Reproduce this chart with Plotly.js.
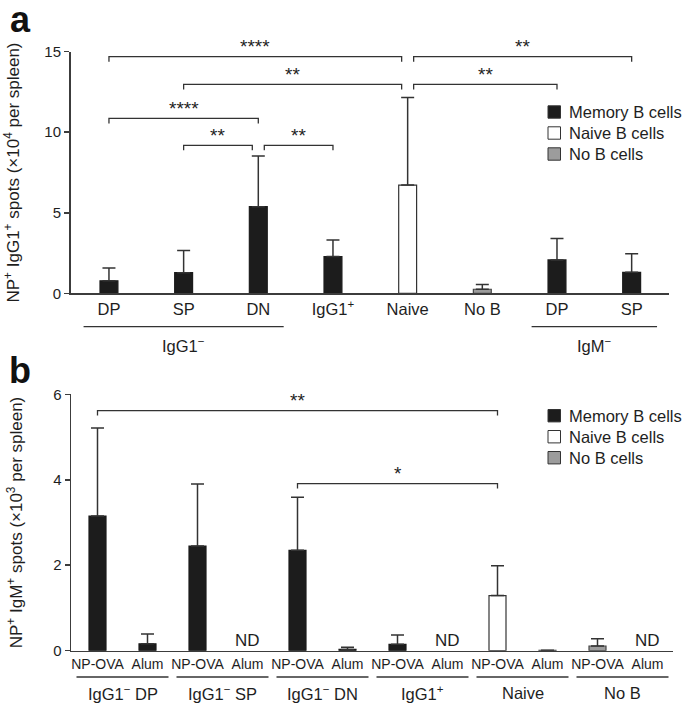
<!DOCTYPE html>
<html>
<head>
<meta charset="utf-8">
<script src="https://cdn.plot.ly/plotly-3.0.1.min.js"></script>
<style>html,body{margin:0;padding:0;background:#fff}#chart{width:685px;height:703px}</style>
</head>
<body>
<div id="chart"></div>
<script>
// ---------- Panel a data ----------
const aLabels = ['DP', 'SP', 'DN', 'IgG1<sup>+</sup>', 'Naive', 'No B', 'DP', 'SP'];
const aSeries = ['memory', 'memory', 'memory', 'memory', 'naive', 'noB', 'memory', 'memory'];
const aMeans  = [0.78, 1.28, 5.38, 2.28, 6.72, 0.25, 2.07, 1.30];
const aErr    = [0.79, 1.37, 3.14, 1.03, 5.43, 0.29, 1.34, 1.16];
const aGroupLabels = ['IgG1<sup>−</sup>', 'IgM<sup>−</sup>'];
const aGroupFrom = [0, 6];
const aGroupTo   = [2, 7];
const aCmpFrom = [0, 4, 1, 4, 0, 1, 2];
const aCmpTo   = [4, 7, 4, 6, 2, 2, 3];
const aCmpY    = [14.69, 14.69, 12.97, 12.97, 10.86, 9.19, 9.19];
const aCmpText = ['****', '**', '**', '**', '****', '**', '**'];
const aTicks = [0, 5, 10, 15];

// ---------- Panel b data ----------
const bGroups = ['IgG1<sup>−</sup> DP', 'IgG1<sup>−</sup> SP', 'IgG1<sup>−</sup> DN', 'IgG1<sup>+</sup>', 'Naive', 'No B'];
const bTreatments = ['NP-OVA', 'Alum'];
const bSeries = ['memory', 'memory', 'memory', 'memory', 'memory', 'memory', 'memory', 'memory', 'naive', 'naive', 'noB', 'noB'];
const bMeans  = [3.15, 0.16, 2.45, null, 2.35, 0.03, 0.15, null, 1.29, 0.01, 0.11, null];
const bErr    = [2.06, 0.23, 1.45, null, 1.24, 0.05, 0.22, null, 0.70, 0.00, 0.17, null];
const bCmpFrom = [0, 4];
const bCmpTo   = [8, 8];
const bCmpY    = [5.62, 3.91];
const bCmpText = ['**', '*'];
const bTicks = [0, 2, 4, 6];

// ---------- Series ----------
const seriesKeys  = ['memory', 'naive', 'noB'];
const seriesNames = ['Memory B cells', 'Naive B cells', 'No B cells'];

// ---------- Styles / layout helpers ----------
const FONT = 'Liberation Sans, Arial, Helvetica, sans-serif';
const TXT = '#1e1e1e';
const AX = '#3c3c3c';
const style = {
  memory: {fill: '#1c1c1c', line: '#1c1c1c'},
  naive:  {fill: '#ffffff', line: '#333333'},
  noB:    {fill: '#9c9c9c', line: '#474747'}
};
const W = 685, H = 703, ML = 70, MR = 12;
const px2x = p => (p - ML) / (W - ML - MR);
const py2y = p => 1 - p / H;

const A = {top: 51.7, bottom: 293.3, left: 70.5, right: 669, range: [-0.515, 7.5], yr: [0, 15], bw: 0.24};
const B = {top: 394.3, bottom: 650.7, left: 71, right: 673, range: [-0.53, 11.51], yr: [0, 6], bw: 0.34};

function barTraces(means, errs, series, xa, ya, bw) {
  return seriesKeys.map(k => {
    const xs = [], ys = [], es = [];
    means.forEach((m, i) => {
      if (series[i] === k && m !== null) { xs.push(i); ys.push(m); es.push(errs[i]); }
    });
    return {
      type: 'bar', x: xs, y: ys, xaxis: xa, yaxis: ya, width: bw,
      name: seriesNames[seriesKeys.indexOf(k)],
      marker: {color: style[k].fill, line: {color: style[k].line, width: 1.2}},
      error_y: {type: 'data', symmetric: false, array: es, arrayminus: es.map(() => 0),
                color: '#333', thickness: 1.5, width: 6.5},
      showlegend: false, cliponaxis: false, hoverinfo: 'skip'
    };
  });
}

function brackets(from, to, ys, texts, xa, ya, P) {
  const shapes = [], anns = [];
  const drop = 5 * (P.yr[1] - P.yr[0]) / (P.bottom - P.top);
  const nudge = 6 * (P.range[1] - P.range[0]) / (P.right - P.left);
  from.forEach((f, i) => {
    let x0 = f, x1 = to[i];
    from.forEach((f2, j) => {
      if (j === i || ys[j] !== ys[i]) return;
      if (to[j] === from[i]) x0 = from[i] + nudge;
      if (from[j] === to[i]) x1 = to[i] - nudge;
    });
    const y = ys[i];
    shapes.push({type: 'path', xref: xa, yref: ya,
      path: `M${x0},${y - drop} L${x0},${y} L${x1},${y} L${x1},${y - drop}`,
      line: {color: '#333', width: 1.3}});
    anns.push({xref: xa, yref: ya, x: (x0 + x1) / 2, y: y, yshift: 10, yanchor: 'middle',
      text: texts[i], showarrow: false, font: {family: FONT, size: 19, color: TXT}});
  });
  return {shapes, anns};
}

function legendItems(topPx) {
  const shapes = [], anns = [];
  seriesKeys.forEach((k, i) => {
    const cy = topPx + i * 21;
    shapes.push({type: 'rect', xref: 'paper', yref: 'paper',
      x0: px2x(548), x1: px2x(560.5), y0: py2y(cy + 6.2), y1: py2y(cy - 6.2),
      fillcolor: style[k].fill, line: {color: '#333', width: 1}});
    anns.push({xref: 'paper', yref: 'paper', x: px2x(567), y: py2y(cy), xanchor: 'left', yanchor: 'middle',
      text: seriesNames[i], showarrow: false, font: {family: FONT, size: 16.5, color: TXT}});
  });
  return {shapes, anns};
}

const traces = [
  ...barTraces(aMeans, aErr, aSeries, 'x', 'y', A.bw),
  ...barTraces(bMeans, bErr, bSeries, 'x2', 'y2', B.bw)
];

let shapes = [], annotations = [];
const ba = brackets(aCmpFrom, aCmpTo, aCmpY, aCmpText, 'x', 'y', A);
const bb = brackets(bCmpFrom, bCmpTo, bCmpY, bCmpText, 'x2', 'y2', B);
const la = legendItems(112);
const lb = legendItems(415.7);
shapes.push(...ba.shapes, ...bb.shapes, ...la.shapes, ...lb.shapes);
annotations.push(...ba.anns, ...bb.anns, ...la.anns, ...lb.anns);

// group lines + labels, panel a
aGroupLabels.forEach((g, i) => {
  shapes.push({type: 'line', xref: 'x', yref: 'paper', x0: aGroupFrom[i] - 0.34, x1: aGroupTo[i] + 0.34,
    y0: py2y(326.7), y1: py2y(326.7), line: {color: '#333', width: 1.3}});
  annotations.push({xref: 'x', yref: 'paper', x: (aGroupFrom[i] + aGroupTo[i]) / 2, y: py2y(345),
    yanchor: 'middle', text: g, showarrow: false, font: {family: FONT, size: 16.5, color: TXT}});
});
// group lines + labels, panel b
bGroups.forEach((g, i) => {
  const c = i * bTreatments.length + (bTreatments.length - 1) / 2;
  shapes.push({type: 'line', xref: 'x2', yref: 'paper', x0: c - 0.92, x1: c + 0.92,
    y0: py2y(677), y1: py2y(677), line: {color: '#333', width: 1.3}});
  annotations.push({xref: 'x2', yref: 'paper', x: c, y: py2y(693),
    yanchor: 'middle', text: g, showarrow: false, font: {family: FONT, size: 16.5, color: TXT}});
});
// ND labels
bMeans.forEach((m, i) => {
  if (m === null) annotations.push({xref: 'x2', yref: 'y2', x: i, y: 0.25, yanchor: 'middle',
    text: 'ND', showarrow: false, font: {family: FONT, size: 17, color: TXT}});
});
// panel letters
annotations.push({xref: 'paper', yref: 'paper', x: px2x(8), y: py2y(19.5), xanchor: 'left', yanchor: 'middle',
  text: '<b>a</b>', showarrow: false, font: {family: FONT, size: 36, color: '#111'}});
annotations.push({xref: 'paper', yref: 'paper', x: px2x(7), y: py2y(370.5), xanchor: 'left', yanchor: 'middle',
  text: '<b>b</b>', showarrow: false, font: {family: FONT, size: 36, color: '#111'}});

const bTickText = bMeans.map((m, i) => bTreatments[i % bTreatments.length]);

const xBase = {showline: true, linecolor: AX, linewidth: 1.5, ticks: '', showgrid: false, zeroline: false,
  fixedrange: true};
const yBase = {showline: true, linecolor: AX, linewidth: 1.5, ticks: 'outside', ticklen: 5, tickwidth: 1.5,
  tickcolor: AX, showgrid: false, zeroline: false, fixedrange: true,
  tickfont: {family: FONT, size: 15, color: TXT}};

const layout = {
  width: W, height: H,
  margin: {l: ML, r: MR, t: 0, b: 0},
  paper_bgcolor: '#fff', plot_bgcolor: '#fff',
  showlegend: false, bargap: 0,
  font: {family: FONT, color: TXT},
  xaxis: Object.assign({}, xBase, {domain: [px2x(A.left), px2x(A.right)], range: A.range, anchor: 'y',
    tickmode: 'array', tickvals: aLabels.map((_, i) => i), ticktext: aLabels,
    tickfont: {family: FONT, size: 16.5, color: TXT}}),
  yaxis: Object.assign({}, yBase, {domain: [py2y(A.bottom), py2y(A.top)], range: A.yr, anchor: 'x',
    tickmode: 'array', tickvals: aTicks,
    title: {text: 'NP<sup>+</sup> IgG1<sup>+</sup> spots (×10<sup>4</sup> per spleen)', standoff: 20,
      font: {family: FONT, size: 17, color: TXT}}}),
  xaxis2: Object.assign({}, xBase, {domain: [px2x(B.left), px2x(B.right)], range: B.range, anchor: 'y2',
    tickmode: 'array', tickvals: bMeans.map((_, i) => i), ticktext: bTickText,
    tickfont: {family: FONT, size: 14, color: TXT}}),
  yaxis2: Object.assign({}, yBase, {domain: [py2y(B.bottom), py2y(B.top)], range: B.yr, anchor: 'x2',
    tickmode: 'array', tickvals: bTicks,
    title: {text: 'NP<sup>+</sup> IgM<sup>+</sup> spots (×10<sup>3</sup> per spleen)', standoff: 26,
      font: {family: FONT, size: 17, color: TXT}}}),
  shapes: shapes,
  annotations: annotations
};

Plotly.newPlot('chart', traces, layout, {displayModeBar: false, staticPlot: true});
</script>
</body>
</html>
